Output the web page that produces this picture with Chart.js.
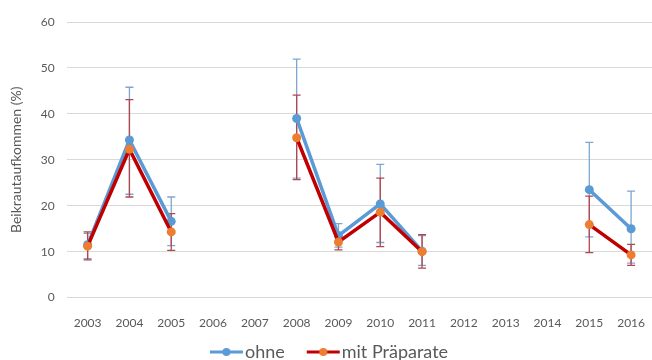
<!DOCTYPE html>
<html>
<head>
<meta charset="utf-8">
<script src="https://cdn.jsdelivr.net/npm/chart.js@4.4.1/dist/chart.umd.min.js"></script>
<style>
  html, body { margin: 0; padding: 0; background: #fff; }
  #wrap { width: 652px; height: 360px; }
</style>
</head>
<body>
<div id="wrap"><canvas id="weedChart"></canvas></div>
<script>
const YEARS = ['2003', '2004', '2005', '2006', '2007', '2008', '2009', '2010', '2011', '2012', '2013', '2014', '2015', '2016'];

// ohne (Kontrolle)
const OHNE = [11.5, 34.3, 16.6, null, null, 39.0, 13.5, 20.4, 10.1, null, null, null, 23.5, 15.0];
const OHNE_LOW = [8.5, 22.5, 11.3, null, null, 26.0, 11.0, 12.0, 7.0, null, null, null, 13.2, 7.5];
const OHNE_HIGH = [14.0, 45.8, 21.9, null, null, 51.9, 16.1, 29.0, 13.5, null, null, null, 33.8, 23.2];

// mit Präparate
const MIT = [11.2, 32.3, 14.3, null, null, 34.8, 12.1, 18.6, 10.0, null, null, null, 15.9, 9.3];
const MIT_LOW = [8.2, 21.9, 10.3, null, null, 25.7, 10.4, 11.1, 6.4, null, null, null, 9.8, 7.0];
const MIT_HIGH = [14.3, 43.1, 18.3, null, null, 44.1, 14.0, 26.0, 13.7, null, null, null, 22.1, 11.6];

const FONT = 'Lato, "Open Sans", sans-serif';

// Legenden-Symbol: Linie mit Punkt (ragt rechts bis fast an den Text)
function legendIcon(lineColor, dotColor) {
    const c = document.createElement('canvas');
    c.width = 48; c.height = 10;
    const g = c.getContext('2d');
    g.strokeStyle = lineColor;
    g.lineWidth = 3;
    g.beginPath(); g.moveTo(14, 5); g.lineTo(47, 5); g.stroke();
    g.fillStyle = dotColor;
    g.beginPath(); g.arc(30.5, 5, 4, 0, Math.PI * 2); g.fill();
    return c;
}

const errorBars = {
    id: 'errorBars',
    beforeDatasetsDraw(chart) {
        const ctx = chart.ctx;
        const x = chart.scales.x, y = chart.scales.y;
        chart.data.datasets.forEach(ds => {
            ctx.save();
            ctx.strokeStyle = ds.errColor;
            ctx.lineWidth = 1.3;
            ds.low.forEach((lo, i) => {
                if (lo === null) return;
                const px = x.getPixelForValue(i);
                const yLo = y.getPixelForValue(lo);
                const yHi = y.getPixelForValue(ds.high[i]);
                ctx.beginPath();
                ctx.moveTo(px, yLo); ctx.lineTo(px, yHi);
                ctx.moveTo(px - 4, yLo); ctx.lineTo(px + 4, yLo);
                ctx.moveTo(px - 4, yHi); ctx.lineTo(px + 4, yHi);
                ctx.stroke();
            });
            ctx.restore();
        });
    }
};

const datasets = [
    {
        label: 'ohne',
        data: OHNE,
        low: OHNE_LOW,
        high: OHNE_HIGH,
        errColor: '#7fa6cf',
        borderColor: '#5b9bd5',
        backgroundColor: '#5b9bd5',
        pointBackgroundColor: '#5b9bd5',
        pointBorderColor: '#5b9bd5',
        icon: legendIcon('#5b9bd5', '#5b9bd5'),
        order: 1
    },
    {
        label: 'mit Präparate',
        data: MIT,
        low: MIT_LOW,
        high: MIT_HIGH,
        errColor: '#b5474a',
        borderColor: '#c00000',
        backgroundColor: '#c00000',
        pointBackgroundColor: '#ed7d31',
        pointBorderColor: '#ed7d31',
        icon: legendIcon('#c00000', '#ed7d31'),
        order: 0
    }
];

new Chart(document.getElementById('weedChart'), {
    type: 'line',
    data: {
        labels: YEARS,
        datasets: datasets.map(d => Object.assign({
            borderWidth: 3.5,
            pointRadius: 4.5,
            pointHoverRadius: 4.5,
            pointBorderWidth: 0,
            tension: 0,
            spanGaps: false
        }, d))
    },
    options: {
        responsive: true,
        maintainAspectRatio: false,
        animation: false,
        layout: { autoPadding: false, padding: { left: 0, right: 0, top: 22, bottom: -11 } },
        scales: {
            x: {
                offset: true,
                grid: { display: false },
                border: { display: false },
                ticks: { color: '#595959', font: { family: FONT, size: 12 }, padding: 10, maxRotation: 0, autoSkip: false },
                afterFit: axis => {
                    axis.paddingLeft = 0;
                    axis.paddingRight = 0;
                    axis.height -= 13;
                }
            },
            y: {
                min: 0,
                max: 60,
                ticks: { stepSize: 10, color: '#595959', font: { family: FONT, size: 12 }, padding: 12 },
                grid: { color: '#d9d9d9', drawTicks: false },
                border: { display: false },
                title: {
                    display: true,
                    text: 'Beikrautaufkommen (%)',
                    color: '#595959',
                    font: { family: FONT, size: 14 },
                    padding: { top: 8, bottom: 4 }
                }
            }
        },
        plugins: {
            tooltip: { enabled: false },
            legend: {
                position: 'bottom',
                labels: {
                    usePointStyle: true,
                    pointStyleWidth: 32,
                    color: '#595959',
                    font: { family: FONT, size: 18 },
                    padding: 16,
                    generateLabels: chart => chart.data.datasets.map((ds, i) => ({
                        text: ds.label,
                        pointStyle: ds.icon,
                        fillStyle: ds.borderColor,
                        strokeStyle: ds.borderColor,
                        lineWidth: 0,
                        fontColor: '#595959',
                        hidden: false,
                        datasetIndex: i
                    }))
                }
            }
        }
    },
    plugins: [errorBars]
});
</script>
</body>
</html>
